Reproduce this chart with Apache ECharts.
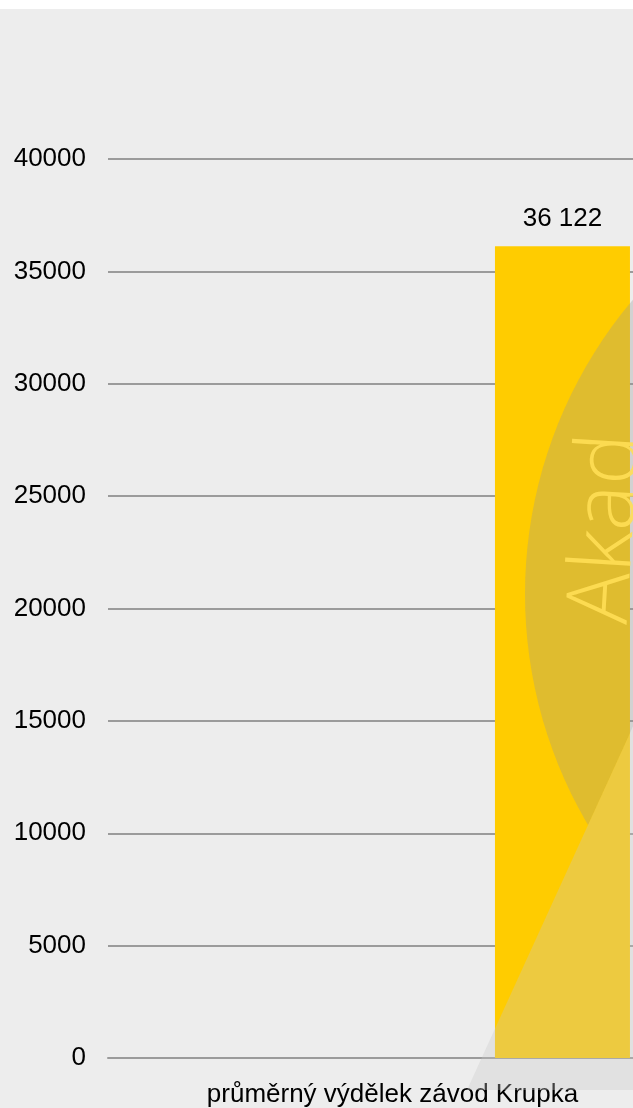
<!DOCTYPE html>
<html>
<head>
<meta charset="utf-8">
<script src="https://cdn.jsdelivr.net/npm/echarts@6/dist/echarts.min.js"></script>
<style>
  html, body { margin: 0; padding: 0; background: #ffffff; overflow: hidden; }
  #wrap { position: absolute; left: 0; top: 9px; width: 633px; height: 1099px; overflow: hidden; background: #ededed; }
  #chart { position: absolute; left: 0; top: 0; width: 720px; height: 1099px; }
</style>
</head>
<body>
<div id="wrap"><div id="chart"></div></div>
<script>
// ---- data ----
var categories = ['průměrný výdělek závod Krupka'];
var seriesHiddenValues = [null];
var seriesWageValues = [36122];
var yTicks = { min: 0, max: 40000, interval: 5000 };

function fmtSpace(v) {
  return String(v).replace(/\B(?=(\d{3})+(?!\d))/g, ' ');
}

// ---- decorative watermark geometry (not data) ----
function clipHalf(poly, A, B, keepNeg) {
  var out = [];
  function side(p) {
    var c = (B[0] - A[0]) * (p[1] - A[1]) - (B[1] - A[1]) * (p[0] - A[0]);
    return keepNeg ? -c : c;
  }
  for (var i = 0; i < poly.length; i++) {
    var P = poly[i], Q = poly[(i + 1) % poly.length];
    var sp = side(P), sq = side(Q);
    if (sp >= 0) out.push(P);
    if ((sp >= 0) !== (sq >= 0)) {
      var t = sp / (sp - sq);
      out.push([P[0] + t * (Q[0] - P[0]), P[1] + t * (Q[1] - P[1])]);
    }
  }
  return out;
}
var wmCx = 980, wmCy = 585, wmR = 455;
var circlePts = [];
for (var k = 0; k < 180; k++) {
  var a = k / 180 * Math.PI * 2;
  circlePts.push([wmCx + wmR * Math.cos(a), wmCy + wmR * Math.sin(a)]);
}
var lineA = [467, 1081], lineB = [630, 724];
var circleCut = clipHalf(circlePts, lineA, lineB, true);
var triPts = [[467, 1081], [800, 1081 - (800 - 467) * 357 / 163], [800, 1081]];

var chart = echarts.init(document.getElementById('chart'), null, { renderer: 'canvas' });
var FONT = '"Liberation Sans", Arial, sans-serif';
chart.setOption({
  backgroundColor: '#ededed',
  animation: false,
  grid: { left: 108, top: 150, width: 569, height: 901.5, containLabel: false },
  xAxis: {
    type: 'category',
    data: categories,
    axisLine: { show: true, lineStyle: { color: '#9b9b9b', width: 2 } },
    axisTick: { show: false },
    axisLabel: { color: '#000', fontSize: 26, fontFamily: FONT, margin: 24, interval: 0 },
    splitLine: { show: false }
  },
  yAxis: {
    type: 'value',
    min: yTicks.min, max: yTicks.max, interval: yTicks.interval,
    axisLine: { show: false },
    axisTick: { show: false },
    axisLabel: { color: '#000', fontSize: 26, fontFamily: FONT, margin: 22,
      formatter: function (v) { return String(v); } },
    splitLine: { show: true, lineStyle: { color: '#9b9b9b', width: 2 } }
  },
  series: [
    {
      name: 'a', type: 'bar', data: seriesHiddenValues,
      barWidth: 135, barGap: '151.8%',
      itemStyle: { color: '#bbbbbb' }
    },
    {
      name: 'průměrný výdělek', type: 'bar', data: seriesWageValues,
      barWidth: 135, barGap: '151.8%',
      itemStyle: { color: '#ffcc00' },
      label: {
        show: true, position: 'top', distance: 14,
        color: '#000', fontSize: 26, fontFamily: FONT,
        formatter: function (p) { return fmtSpace(p.value); }
      }
    }
  ],
  graphic: [
    {
      type: 'polygon', z: 100, silent: true,
      shape: { points: circleCut },
      style: { fill: 'rgba(153,153,153,0.31)' }
    },
    {
      type: 'polygon', z: 101, silent: true,
      shape: { points: triPts },
      style: { fill: 'rgba(200,200,200,0.32)' }
    },
    {
      type: 'text', z: 102, silent: true,
      x: 645, y: 617, rotation: Math.PI / 2 - 0.06,
      style: {
        text: 'Akad', x: 0, y: 0, align: 'left', verticalAlign: 'bottom',
        font: '300 86px "Open Sans", "Lato", sans-serif',
        fill: 'rgba(255,222,85,0.9)'
      }
    }
  ]
});
</script>
</body>
</html>
